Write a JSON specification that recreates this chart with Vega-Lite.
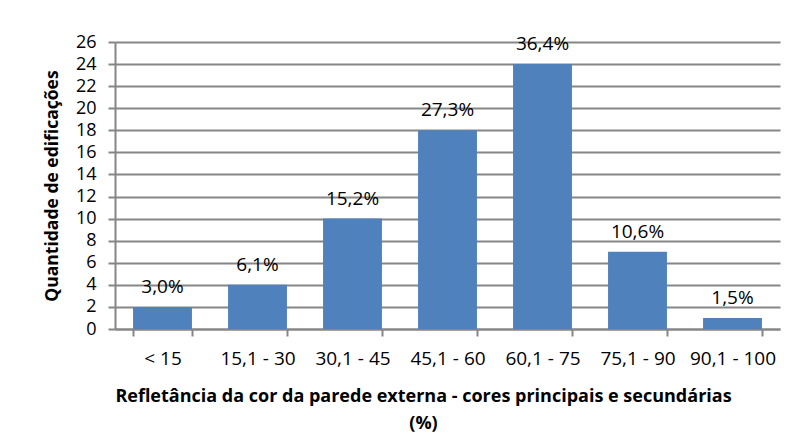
{
  "$schema": "https://vega.github.io/schema/vega-lite/v6.json",
  "width": 665,
  "height": 287,
  "autosize": {"type": "none"},
  "padding": {"left": 115, "top": 42, "right": 21, "bottom": 115},
  "background": "white",
  "config": {
    "view": {"stroke": null},
    "font": "Open Sans",
    "axis": {"labelFont": "Open Sans", "titleFont": "Open Sans", "labelColor": "#000", "titleColor": "#000"}
  },
  "data": {
    "values": [
      {"faixa": "< 15", "qtd": 2, "pct": "3,0%"},
      {"faixa": "15,1 - 30", "qtd": 4, "pct": "6,1%"},
      {"faixa": "30,1 - 45", "qtd": 10, "pct": "15,2%"},
      {"faixa": "45,1 - 60", "qtd": 18, "pct": "27,3%"},
      {"faixa": "60,1 - 75", "qtd": 24, "pct": "36,4%"},
      {"faixa": "75,1 - 90", "qtd": 7, "pct": "10,6%"},
      {"faixa": "90,1 - 100", "qtd": 1, "pct": "1,5%"}
    ]
  },
  "encoding": {
    "x": {
      "field": "faixa",
      "type": "nominal",
      "sort": null,
      "scale": {"paddingInner": 0.38, "paddingOuter": 0.19},
      "axis": {
        "title": ["Refletância da cor da parede externa - cores principais e secundárias", "(%)"],
        "titleFontSize": 18,
        "titleFontWeight": "bold",
        "titleLineHeight": 27,
        "titlePadding": 19,
        "titleX": 308,
        "titleAnchor": "middle",
        "labelAngle": 0,
        "labelFontSize": 19,
        "labelPadding": 13,
        "tickBand": "extent",
        "tickSize": 7,
        "tickColor": "#868686",
        "tickWidth": 2,
        "domainColor": "#868686",
        "domainWidth": 2,
        "grid": false
      }
    },
    "y": {
      "field": "qtd",
      "type": "quantitative",
      "scale": {"domain": [0, 26], "nice": false},
      "axis": {
        "title": "Quantidade de edificações",
        "titleFontSize": 17.5,
        "titleFontWeight": "bold",
        "titlePadding": 14,
        "values": [0, 2, 4, 6, 8, 10, 12, 14, 16, 18, 20, 22, 24, 26],
        "labelFontSize": 18,
        "labelPadding": 12,
        "tickSize": 7,
        "tickColor": "#868686",
        "tickWidth": 2,
        "domainColor": "#868686",
        "domainWidth": 2,
        "grid": true,
        "gridColor": "#868686",
        "gridWidth": 2
      }
    }
  },
  "layer": [
    {"mark": {"type": "bar", "color": "#4F81BD"}},
    {
      "mark": {"type": "text", "baseline": "middle", "dy": -20, "fontSize": 19, "font": "Open Sans", "color": "#000"},
      "encoding": {"text": {"field": "pct"}}
    }
  ]
}
